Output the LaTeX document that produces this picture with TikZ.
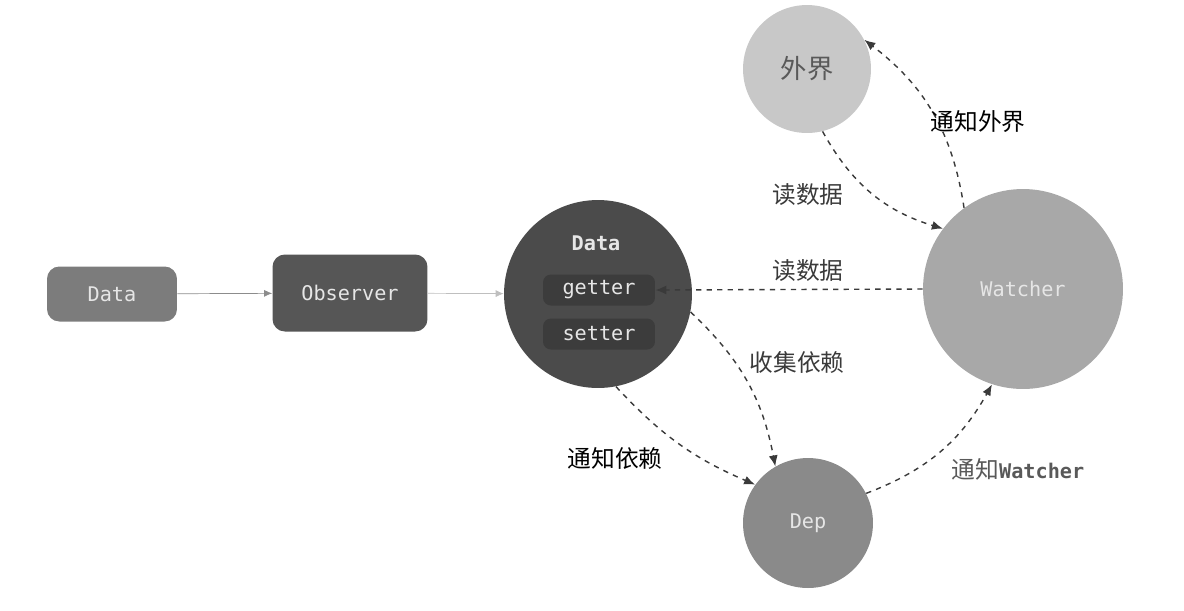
\documentclass[tikz,border=0pt]{standalone}
\usepackage{fontspec}
\usepackage{xcolor}
\usepackage{tikz}
\usetikzlibrary{arrows.meta,positioning}
\newfontfamily\cjkfont{Noto Sans CJK SC}
\newfontfamily\codefont{DejaVu Sans Mono}
\definecolor{BoxGray}{HTML}{7C7C7C}
\definecolor{ObsGray}{HTML}{565656}
\definecolor{CoreGray}{HTML}{4B4B4B}
\definecolor{PillGray}{HTML}{3C3C3C}
\definecolor{OuterGray}{HTML}{C8C8C8}
\definecolor{WatchGray}{HTML}{A8A8A8}
\definecolor{DepGray}{HTML}{8A8A8A}
\definecolor{Ink}{HTML}{3A3A3A}
\definecolor{Pale}{HTML}{E6E6E6}

\begin{document}
\begin{tikzpicture}[x=0.02cm,y=-0.02cm,
  box/.style={rounded corners=7pt,text=Pale,font=\codefont\fontsize{11.5}{13}\selectfont},
  ball/.style={circle,inner sep=0pt,text=Pale,font=\codefont\fontsize{11.5}{13}\selectfont},
  pill/.style={rounded corners=4.5pt,fill=PillGray,minimum width=2.24cm,minimum height=0.62cm,text=Pale,font=\codefont\fontsize{11.5}{13}\selectfont},
  link/.style={-{Latex[length=1.6mm,width=1.4mm]},draw=black!45},
  flow/.style={-{Latex[length=2.2mm,width=1.8mm]},draw=Ink,dashed,thick},
  lbl/.style={font=\cjkfont\fontsize{13.5}{16}\selectfont,text=Ink}
]
\useasboundingbox (0,0) rectangle (1184,610);

% left chain
\node[box,fill=BoxGray,minimum width=2.6cm,minimum height=1.1cm] (data) at (112,294) {Data};
\node[box,fill=ObsGray,minimum width=3.1cm,minimum height=1.54cm] (observer) at (350,293) {Observer};

% reactive core
\node[ball,fill=CoreGray,minimum size=3.76cm] (core) at (598,294) {};
\node[text=Pale,font=\codefont\bfseries\fontsize{11.5}{13}\selectfont] (coretitle) at (596,243) {Data};
\node[pill] (getter) at (599,290) {getter};
\node[pill] (setter) at (599,334) {setter};

\node[ball,fill=OuterGray,minimum size=2.56cm,text=black!65,font=\cjkfont\fontsize{15}{18}\selectfont] (outer) at (807,69) {外界};
\node[ball,fill=WatchGray,minimum size=4.0cm] (watcher) at (1023,289) {Watcher};
\node[ball,fill=DepGray,minimum size=2.6cm] (dep) at (808,523) {Dep};

\draw[link] (data) -- (observer);
\draw[link,draw=black!25] (observer) -- (core);

\draw[flow] (outer.-76) to[bend right=22] (watcher.143);
\draw[flow] (watcher.126) to[bend right=22] (outer.27);
\draw[flow] (watcher.west) -- (getter.east);
\draw[flow] (core.-11) to[bend left=18] (dep.120);
\draw[flow] (core.-79) to[bend right=12] (dep.144);
\draw[flow] (dep.27) to[bend right=20] (watcher.-108);

% labels
\node[lbl] (readouter) at (808,195) {读数据};
\node[lbl,text=black] (notifyouter) at (978,122) {通知外界};
\node[lbl] (readwatch) at (808,271) {读数据};
\node[lbl] (collect) at (797,362) {收集依赖};
\node[lbl,text=black] (notifydep) at (615,458) {通知依赖};
\node[lbl,text=black!65] (notifywatch) at (1018,469) {通知{\codefont\bfseries\fontsize{11.5}{13}\selectfont Watcher}};
\end{tikzpicture}
\end{document}
